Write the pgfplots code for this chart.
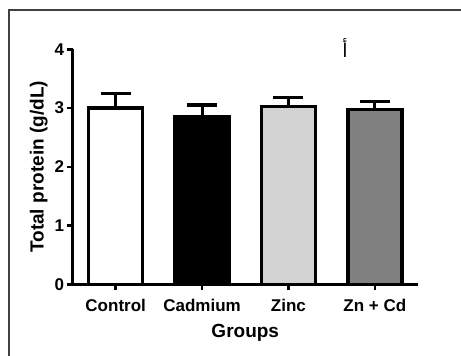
\documentclass[border=0pt]{standalone}
\usepackage{pgfplots}
\pgfplotsset{compat=1.18}
\usepackage{fontspec}
\setmainfont{Liberation Sans}
\newfontfamily\arabicfont[Script=Arabic]{DejaVu Sans}
\TeXXeTstate=1
\definecolor{zincgray}{RGB}{211,211,211}
\definecolor{zncdgray}{RGB}{128,128,128}
\definecolor{framegray}{RGB}{64,64,64}
\begin{document}
\begin{tikzpicture}
\path[use as bounding box] (0pt,0pt) rectangle (461pt,356pt);
\draw[framegray, line width=2pt] (8.5pt,0pt) -- (8.5pt,346pt) -- (461pt,346pt);
\begin{axis}[
  at={(72.5pt,71.5pt)}, anchor=south west,
  scale only axis, width=345.5pt, height=235.2pt,
  xmin=-0.5, xmax=3.5, ymin=0, ymax=4,
  axis x line=bottom, axis y line=left,
  axis line style={line width=2.8pt, -},
  xtick={0,1,2,3},
  xticklabels={Control,Cadmium,Zinc,Zn + Cd},
  ytick={0,1,2,3,4},
  tick align=outside, major tick length=6pt,
  tick style={line width=2.5pt, black},
  /pgf/number format/assume math mode=true,
  tick label style={font=\fontsize{17}{19}\selectfont\bfseries},
  yticklabel style={xshift=1pt},
  xticklabel style={yshift=-5pt},
  label style={font=\fontsize{19}{22}\selectfont\bfseries},
  xlabel={Groups},
  ylabel={Total protein (g/dL)},
  xlabel style={yshift=-6pt},
  ylabel style={yshift=0pt},
  ybar, bar width=54pt, bar shift=0pt,
  every axis plot/.append style={line width=3.4pt, draw=black},
  error bars/y dir=plus, error bars/y explicit,
  error bars/error mark=|,
  error bars/error bar style={line width=3pt, black},
  error bars/error mark options={line width=3.6pt, mark size=15pt, black},
  clip=false,
]
\addplot[fill=white] coordinates {(0,3.00) +- (0,0.25)};
\addplot[fill=black] coordinates {(1,2.86) +- (0,0.19)};
\addplot[fill=zincgray] coordinates {(2,3.03) +- (0,0.15)};
\addplot[fill=zncdgray] coordinates {(3,2.98) +- (0,0.13)};
\end{axis}
\node at (345pt,308pt) {\arabicfont\fontsize{19}{21}\selectfont\beginR أ\endR};
\end{tikzpicture}
\end{document}
